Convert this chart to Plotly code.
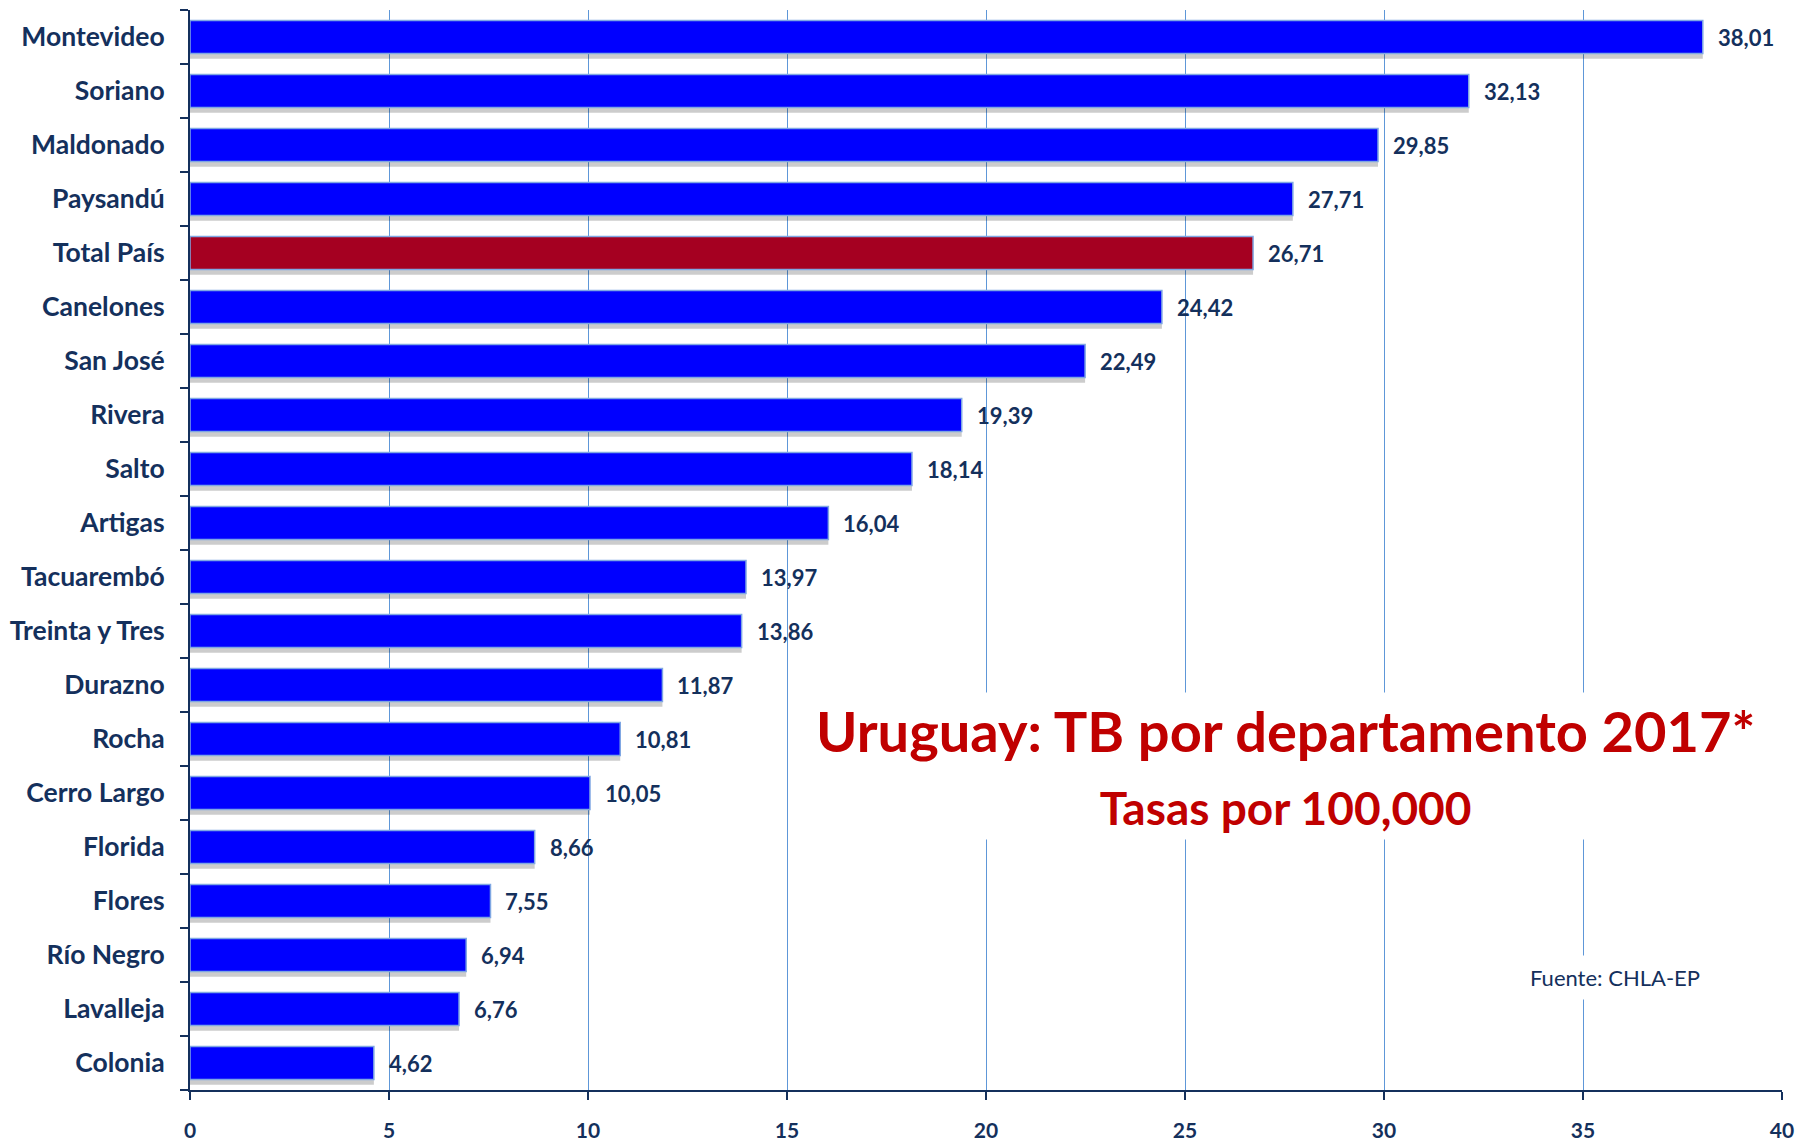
import plotly.graph_objects as go

departamentos = ["Montevideo", "Soriano", "Maldonado", "Paysandú", "Total País",
                 "Canelones", "San José", "Rivera", "Salto", "Artigas",
                 "Tacuarembó", "Treinta y Tres", "Durazno", "Rocha", "Cerro Largo",
                 "Florida", "Flores", "Río Negro", "Lavalleja", "Colonia"]
tasas = [38.01, 32.13, 29.85, 27.71, 26.71, 24.42, 22.49, 19.39, 18.14, 16.04,
         13.97, 13.86, 11.87, 10.81, 10.05, 8.66, 7.55, 6.94, 6.76, 4.62]
x_ticks = [0, 5, 10, 15, 20, 25, 30, 35, 40]

NAVY = "#14305C"
BLUE = "#0000FF"
RED_BAR = "#A50021"
GRID = "#5E97D8"
FONT = "Lato"

colors = [RED_BAR if d == "Total País" else BLUE for d in departamentos]
labels = [f"{v:.2f}".replace(".", ",") for v in tasas]

fig = go.Figure()
# soft drop shadow
fig.add_trace(go.Bar(
    x=tasas, y=departamentos, orientation="h",
    width=0.61, offset=-0.305 + 0.1,
    marker=dict(color="rgba(0,0,0,0.2)", line=dict(width=0)),
    hoverinfo="skip", showlegend=False,
))
fig.add_trace(go.Bar(
    x=tasas, y=departamentos, orientation="h",
    width=0.61, offset=-0.305,
    marker=dict(color=colors, line=dict(color="#7FA7E3", width=1.5)),
    showlegend=False,
))

for d, v, t in zip(departamentos, tasas, labels):
    fig.add_annotation(x=v, y=d, xref="x", yref="y", text=f"<b>{t}</b>",
                       showarrow=False, xanchor="left", yanchor="middle", xshift=13,
                       font=dict(family=FONT, size=22, color=NAVY))

fig.add_annotation(
    x=0.688, y=0.3, xref="paper", yref="paper",
    text=("<b>Uruguay: TB por departamento 2017*</b><br>"
          "<span style='font-size:46px'><b>Tasas por 100,000</b></span>"),
    showarrow=False, xanchor="center", yanchor="middle", align="center",
    bgcolor="white", borderpad=4,
    font=dict(family=FONT, size=56, color="#C00000"),
)
fig.add_annotation(
    x=0.895, y=0.104, xref="paper", yref="paper",
    text="Fuente: CHLA-EP", showarrow=False, xanchor="center", yanchor="middle",
    bgcolor="white", borderpad=8,
    font=dict(family=FONT, size=22, color=NAVY),
)

fig.update_layout(
    width=1801, height=1145,
    margin=dict(l=190, r=19, t=10, b=55, autoexpand=False),
    paper_bgcolor="white", plot_bgcolor="white",
    barmode="overlay", bargap=0.39,
    font=dict(family=FONT, color=NAVY),
)
fig.update_xaxes(
    range=[0, 40], tickvals=x_ticks, ticktext=[f"<b>{v}</b>" for v in x_ticks],
    tickfont=dict(family=FONT, size=21, color=NAVY),
    showgrid=True, gridcolor=GRID, gridwidth=1.2,
    showline=True, linecolor=NAVY, linewidth=2,
    ticks="outside", ticklen=8, tickwidth=2, tickcolor=NAVY,
    ticklabelstandoff=13, ticklabeloverflow="allow", zeroline=False,
    automargin=False,
)
fig.update_yaxes(
    categoryorder="array", categoryarray=departamentos, autorange="reversed",
    ticktext=[f"<b>{d}</b>" for d in departamentos], tickvals=departamentos,
    tickfont=dict(family=FONT, size=26.5, color=NAVY),
    showgrid=False, showline=True, linecolor=NAVY, linewidth=2,
    ticks="outside", ticklen=8, tickwidth=2, tickcolor=NAVY,
    tickson="boundaries", ticklabelstandoff=18, automargin=False,
)

fig.write_html(
    "out.html",
    config={"displayModeBar": False},
    post_script=("document.body.style.margin='0';"
                 "document.body.style.overflow='hidden';"),
)
